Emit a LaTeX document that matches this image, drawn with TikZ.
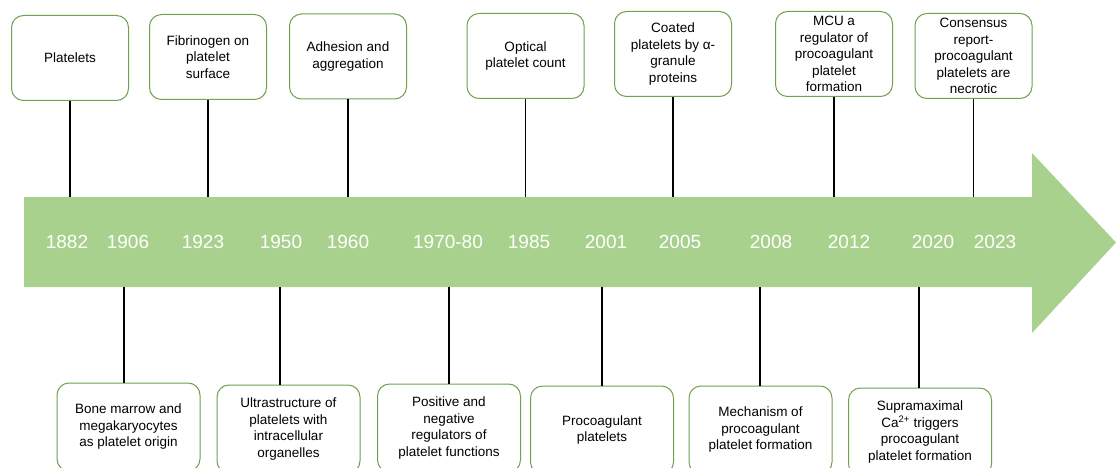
\documentclass[tikz,border=0pt]{standalone}
\usepackage{fontspec}
\setmainfont{Liberation Sans}
\definecolor{barfill}{RGB}{169,209,142}
\definecolor{boxline}{RGB}{112,160,80}

\begin{document}
\begin{tikzpicture}[x=1pt,y=-1pt,
        event/.style={draw=boxline,line width=1pt,rounded corners=12pt,fill=white,
            align=center,minimum width=117pt,minimum height=85pt,inner sep=1pt,
            font=\fontsize{13.5}{16.5}\selectfont},
        later/.style={event,minimum width=143pt,minimum height=88pt},
        yr/.style={text=white,font=\fontsize{19}{22}\selectfont},
        stem/.style={line width=1.4pt}]
            \clip (0,0) rectangle (1116,468);
            % timeline arrow
            \fill[barfill] (24,197) -- (1032,197) -- (1032,153) -- (1116,242.5)
                -- (1032,333) -- (1032,287) -- (24,287) -- cycle;
            \coordinate (bartop) at (0,197);
            \coordinate (barbot) at (0,287);
            \foreach \x/\yt [count=\i] in {67/1882,128/1906,203/1923,281/1950,348/1960,448/1970-80,
                    529/1985,606/2001,680/2005,771/2008,849/2012,933/2020,995/2023}
                \node[yr] (yr\i) at (\x,242) {\yt};
            % events above the arrow
            \node[event] (t1) at (70,58) {Platelets};
            \node[event] (t2) at (208,57) {Fibrinogen on\\platelet\\surface};
            \node[event] (t3) at (348,56.5) {Adhesion and\\aggregation};
            \node[event] (t4) at (525.5,56) {Optical\\platelet count};
            \node[event] (t5) at (673,54) {Coated\\platelets by α-\\granule\\proteins};
            \node[event] (t6) at (834,54) {MCU a\\regulator of\\procoagulant\\platelet\\formation};
            \node[event] (t7) at (973.5,56) {Consensus\\report-\\procoagulant\\platelets are\\necrotic};
            % events below the arrow
            \node[later] (b1) at (128.5,427) {Bone marrow and\\megakaryocytes\\as platelet origin};
            \node[later] (b2) at (288.5,429) {Ultrastructure of\\platelets with\\intracellular\\organelles};
            \node[later] (b3) at (449,428) {Positive and\\negative\\regulators of\\platelet functions};
            \node[later] (b4) at (602,430) {Procoagulant\\platelets};
            \node[later] (b5) at (760.5,430) {Mechanism of\\procoagulant\\platelet formation};
            \node[later] (b6) at (920,432) {Supramaximal\\Ca\textsuperscript{2+} triggers\\procoagulant\\platelet formation};
            \foreach \i in {1,...,7}
                \draw[stem] (t\i.south) -- (t\i.south |- bartop);
            \foreach \x/\i in {124/1,280/2,449/3,602/4,760/5,919/6}{
                \coordinate (c\i) at (\x,287);
                \draw[stem] (c\i) -- (c\i |- b\i.north);
            }
\end{tikzpicture}
\end{document}
